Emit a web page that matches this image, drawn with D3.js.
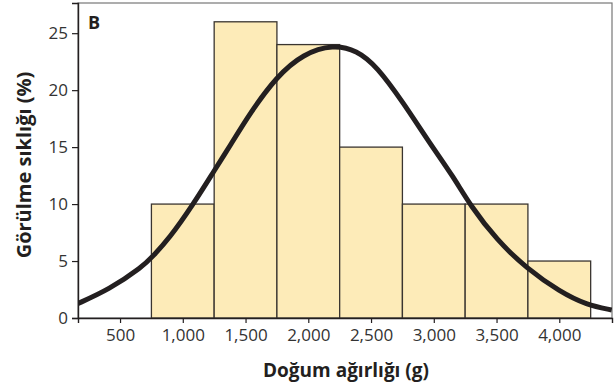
<!DOCTYPE html>
<html>
<head>
<meta charset="utf-8">
<script src="https://cdn.jsdelivr.net/npm/d3@7"></script>
<style>
  body { margin: 0; background: #fff; }
  text { font-family: "Open Sans", sans-serif; }
</style>
</head>
<body>
<svg id="svg" width="614" height="390"></svg>
<script>
// histogram bins (g) and frequency (%)
let binStart = [750, 1250, 1750, 2250, 2750, 3250, 3750];
let binEnd = [1250, 1750, 2250, 2750, 3250, 3750, 4250];
let freq = [10, 26, 24, 15, 10, 10, 5];
// fitted curve
let curveX = [150, 414, 680, 760, 893, 1079, 1260, 1376, 1536, 1748, 1960, 2200, 2386, 2545, 2757, 2970, 3156, 3289, 3502, 3740, 4006, 4218, 4418];
let curveY = [1.2, 2.5, 4.5, 5.4, 7.0, 9.9, 13.1, 15.1, 18.0, 21.2, 23.2, 24.0, 23.5, 22.1, 18.9, 15.3, 12.4, 9.9, 6.85, 4.35, 2.3, 1.15, 0.7];
let xTicks = [500, 1000, 1500, 2000, 2500, 3000, 3500, 4000];
let yTicks = [0, 5, 10, 15, 20, 25];

let svg = d3.select("#svg");
let mLeft = 78, mRight = 612, mTop = 3, mBottom = 318;

let x = d3.scaleLinear().domain([165, 4420]).range([mLeft, mRight]);
let y = d3.scaleLinear().domain([0, 27.65]).range([mBottom, mTop]);

svg.append("clipPath")
  .attr("id", "plot-clip")
  .append("rect")
  .attr("x", mLeft).attr("y", mTop)
  .attr("width", mRight - mLeft).attr("height", mBottom - mTop);

// frame
svg.append("rect")
  .attr("x", mLeft).attr("y", mTop)
  .attr("width", mRight - mLeft).attr("height", mBottom - mTop)
  .style("fill", "none")
  .style("stroke", "#777")
  .style("stroke-width", 1.2);

// bars
svg.selectAll("rect.bar")
  .data(freq)
  .enter()
  .append("rect")
  .attr("class", "bar")
  .attr("x", (d, i) => x(binStart[i]))
  .attr("y", (d) => y(d))
  .attr("width", (d, i) => x(binEnd[i]) - x(binStart[i]))
  .attr("height", (d) => y(0) - y(d))
  .style("fill", "#fdebb8")
  .style("stroke", "#3a3530")
  .style("stroke-width", 1.3);

// curve
let line = d3.line()
  .x((d) => x(d[0]))
  .y((d) => y(d[1]))
  .curve(d3.curveBasis);
svg.append("path")
  .attr("clip-path", "url(#plot-clip)")
  .attr("d", line(curveX.map((v, i) => [v, curveY[i]])))
  .style("fill", "none")
  .style("stroke", "#231f20")
  .style("stroke-width", 5);

// axes
let fmt = d3.format(",");
let xAxis = svg.append("g")
  .attr("transform", `translate(0,${mBottom})`)
  .call(d3.axisBottom(x).tickValues(xTicks).tickFormat((d) => fmt(d)).tickSize(5).tickPadding(6));
let yAxis = svg.append("g")
  .attr("transform", `translate(${mLeft},0)`)
  .call(d3.axisLeft(y).tickValues(yTicks).tickSize(6).tickPadding(4));

[xAxis, yAxis].forEach((g) => {
  g.select(".domain").style("stroke", "#231f20").style("stroke-width", 1.4);
  g.selectAll(".tick line").style("stroke", "#231f20").style("stroke-width", 1.2);
  g.selectAll(".tick text")
    .style("font-family", "'Open Sans', sans-serif")
    .style("font-size", "17px")
    .style("fill", "#333");
});

// panel label
svg.append("text")
  .attr("x", 88).attr("y", 29)
  .style("font-weight", "bold")
  .style("font-size", "18px")
  .style("fill", "#231f20")
  .text("B");

// axis titles
svg.append("text")
  .attr("x", (mLeft + mRight) / 2 + 1)
  .attr("y", 377)
  .attr("text-anchor", "middle")
  .style("font-weight", "bold")
  .style("font-size", "19px")
  .style("fill", "#231f20")
  .text("Doğum ağırlığı (g)");

svg.append("text")
  .attr("transform", "translate(31,165) rotate(-90)")
  .attr("text-anchor", "middle")
  .style("font-weight", "bold")
  .style("font-size", "20px")
  .style("fill", "#231f20")
  .text("Görülme sıklığı (%)");
</script>
</body>
</html>
